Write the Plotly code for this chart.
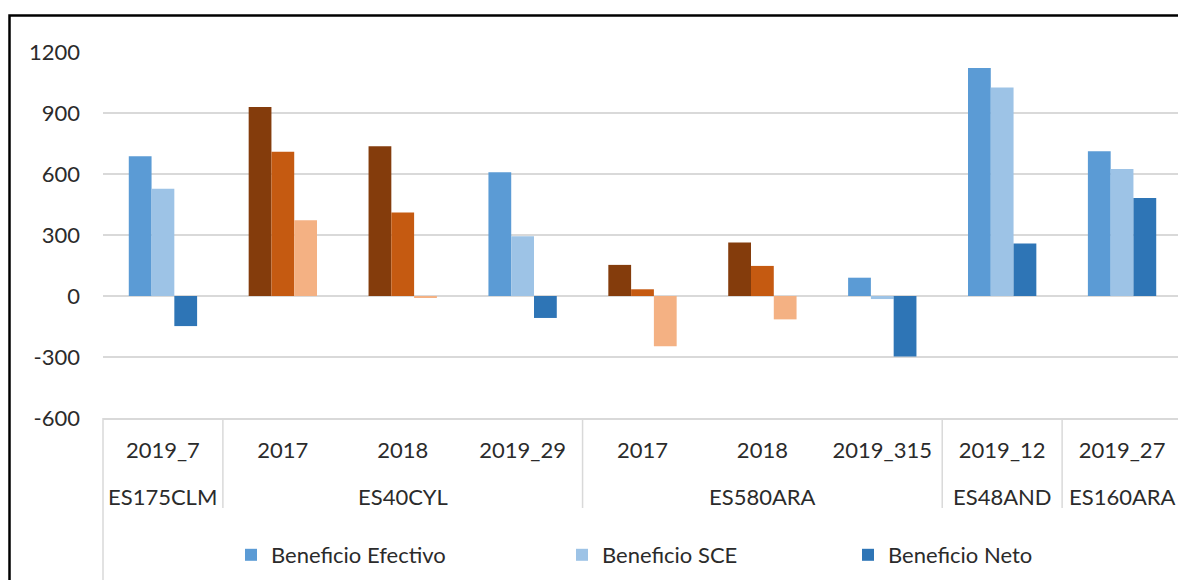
import plotly.graph_objects as go

# Categories (outer level = site, inner level = year / id)
sites = ["ES175CLM", "ES40CYL", "ES40CYL", "ES40CYL", "ES580ARA",
         "ES580ARA", "ES580ARA", "ES48AND", "ES160ARA"]
years = ["2019_7", "2017", "2018", "2019_29", "2017",
         "2018", "2019_315", "2019_12", "2019_27"]

# Series values
efectivo = [687, 929, 737, 608, 153, 263, 90, 1121, 712]
sce = [528, 710, 411, 294, 33, 148, -15, 1025, 625]
neto = [-148, 373, -5, -108, -247, -115, -298, 258, 482]

# Colour family of each group (blue or orange shades)
family = ["blue", "orange", "orange", "blue", "orange",
          "orange", "blue", "blue", "blue"]

y_ticks = [-600, -300, 0, 300, 600, 900, 1200]

series_names = ["Beneficio Efectivo", "Beneficio SCE", "Beneficio Neto"]
series_values = [efectivo, sce, neto]

shades = {
    "blue": ["#5B9BD5", "#9DC3E6", "#2E75B6"],
    "orange": ["#843C0C", "#C55A11", "#F4B183"],
}

FONT = "Lato"
TXT = "#2B2B2B"
GRID = "#D9D9D9"

positions = list(range(len(years)))

fig = go.Figure()

legend_ids = ["legend", "legend2", "legend3"]
for k in range(3):
    colors = [shades[f][k] for f in family]
    fig.add_trace(go.Bar(
        x=positions,
        y=series_values[k],
        name=series_names[k],
        marker=dict(color=colors, line=dict(width=0)),
        legend=legend_ids[k],
        showlegend=True,
    ))

# the page body has an 8px margin: image px = figure px + 8
# plot area in image pixels: x 103..1182, y 52..418
def px_x(p):
    return (p - 103) / 1079

def px_y(p):
    return (418 - p) / 366

legend_base = dict(
    orientation="h", yanchor="middle", y=px_y(555), xanchor="left",
    font=dict(family=FONT, size=22, color=TXT),
    bgcolor="rgba(0,0,0,0)", itemwidth=30,
)

fig.update_layout(
    width=1178, height=572,
    margin=dict(l=95, r=4, t=44, b=162),
    paper_bgcolor="white", plot_bgcolor="white",
    barmode="group", bargap=0.43, bargroupgap=0,
    font=dict(family=FONT, size=22, color=TXT),
    showlegend=True,
    legend=dict(legend_base, x=px_x(231)),
    legend2=dict(legend_base, x=px_x(562)),
    legend3=dict(legend_base, x=px_x(848)),
)

fig.update_yaxes(
    range=[-600, 1200], tickvals=y_ticks, ticktext=[str(v) for v in y_ticks],
    showgrid=True, gridcolor=GRID, gridwidth=2,
    zeroline=True, zerolinecolor=GRID, zerolinewidth=2,
    showline=False, ticklabelstandoff=22,
    tickfont=dict(family=FONT, size=22, color=TXT),
)

fig.update_xaxes(
    range=[-0.5, len(years) - 0.5],
    tickvals=positions, ticktext=years,
    showline=True, linecolor=GRID, linewidth=2,
    showgrid=False, zeroline=False,
    ticks="outside", ticklen=12, tickcolor="rgba(0,0,0,0)",
    tickfont=dict(family=FONT, size=22, color=TXT),
)

# outer level labels (sites) and dividers between site runs
runs = []
start = 0
for i in range(1, len(sites) + 1):
    if i == len(sites) or sites[i] != sites[start]:
        runs.append((sites[start], start, i - 1))
        start = i

for name, a, b in runs:
    fig.add_annotation(x=(a + b) / 2, xref="x", y=px_y(497), yref="paper",
                       text=name, showarrow=False, yanchor="middle",
                       font=dict(family=FONT, size=22, color=TXT))
    if a > 0:
        fig.add_shape(type="line", xref="x", yref="paper",
                      x0=a - 0.5, x1=a - 0.5, y0=0, y1=px_y(508),
                      line=dict(color=GRID, width=1.5))

# table borders below the axis and the outer black frame
for xp in [0, 1]:
    fig.add_shape(type="line", xref="paper", yref="paper",
                  x0=xp, x1=xp, y0=0, y1=px_y(600),
                  line=dict(color=GRID, width=1.5))

fig.add_shape(type="rect", xref="paper", yref="paper",
              x0=px_x(9.5), x1=px_x(1195), y0=px_y(600), y1=px_y(15.5),
              line=dict(color="black", width=2.5), layer="above")

fig.write_html("out.html")
